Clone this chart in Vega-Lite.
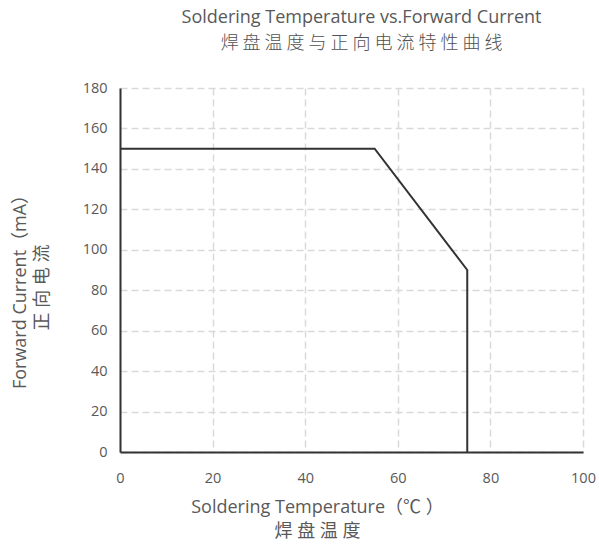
{
  "$schema": "https://vega.github.io/schema/vega-lite/v6.json",
  "width": 463,
  "height": 364,
  "autosize": "none",
  "padding": {"left": 120, "top": 88, "right": 16, "bottom": 92},
  "background": "white",
  "config": {
    "view": {"stroke": null},
    "font": "Open Sans, Noto Sans CJK SC, sans-serif"
  },
  "title": {
    "text": "Soldering Temperature vs.Forward Current",
    "subtitle": "焊 盘 温 度 与 正 向 电 流 特 性  曲 线",
    "anchor": "middle",
    "frame": "group",
    "dx": 10,
    "font": "Open Sans, Noto Sans CJK SC, sans-serif",
    "fontSize": 18,
    "fontWeight": "normal",
    "color": "#595959",
    "subtitleFont": "Noto Sans CJK SC, sans-serif",
    "subtitleFontSize": 18,
    "subtitleFontWeight": 300,
    "subtitleColor": "#505050",
    "subtitlePadding": 8,
    "offset": 27
  },
  "data": {
    "values": [
      {"i": 0, "temp": 0, "current": 150},
      {"i": 1, "temp": 55, "current": 150},
      {"i": 2, "temp": 75, "current": 90},
      {"i": 3, "temp": 75, "current": 0}
    ]
  },
  "mark": {"type": "line", "color": "#333333", "strokeWidth": 2, "clip": false},
  "encoding": {
    "order": {"field": "i", "type": "quantitative"},
    "x": {
      "field": "temp",
      "type": "quantitative",
      "scale": {"domain": [0, 100], "nice": false},
      "axis": {
        "values": [0, 20, 40, 60, 80, 100],
        "title": ["Soldering Temperature（℃ ）", "焊 盘 温 度"],
        "titleFont": "Open Sans, Noto Sans CJK SC, sans-serif",
        "titleFontSize": 18,
        "titleFontWeight": "normal",
        "titleColor": "#595959",
        "titleLineHeight": 24,
        "titleX": 197,
        "titleY": 46,
        "titleBaseline": "top",
        "titleAlign": "center",
        "labelFontSize": 14.5,
        "labelColor": "#595959",
        "labelPadding": 19,
        "labelFlush": false,
        "ticks": false,
        "domainColor": "#333333",
        "domainWidth": 2,
        "grid": true,
        "gridColor": "#d9d9d9",
        "gridDash": [7, 4],
        "gridWidth": 1.5
      }
    },
    "y": {
      "field": "current",
      "type": "quantitative",
      "scale": {"domain": [0, 180], "nice": false},
      "axis": {
        "values": [0, 20, 40, 60, 80, 100, 120, 140, 160, 180],
        "title": ["Forward Current（mA）", "正 向 电 流"],
        "titleFont": "Open Sans, Noto Sans CJK SC, sans-serif",
        "titleFontSize": 18,
        "titleFontWeight": "normal",
        "titleColor": "#595959",
        "titleLineHeight": 22,
        "titleX": -100,
        "titleY": 199,
        "titleAngle": 270,
        "titleBaseline": "middle",
        "titleAlign": "center",
        "labelFontSize": 14.5,
        "labelColor": "#595959",
        "labelPadding": 13,
        "labelFlush": false,
        "ticks": false,
        "domainColor": "#333333",
        "domainWidth": 2,
        "grid": true,
        "gridColor": "#d9d9d9",
        "gridDash": [7, 4],
        "gridWidth": 1.5
      }
    }
  }
}
